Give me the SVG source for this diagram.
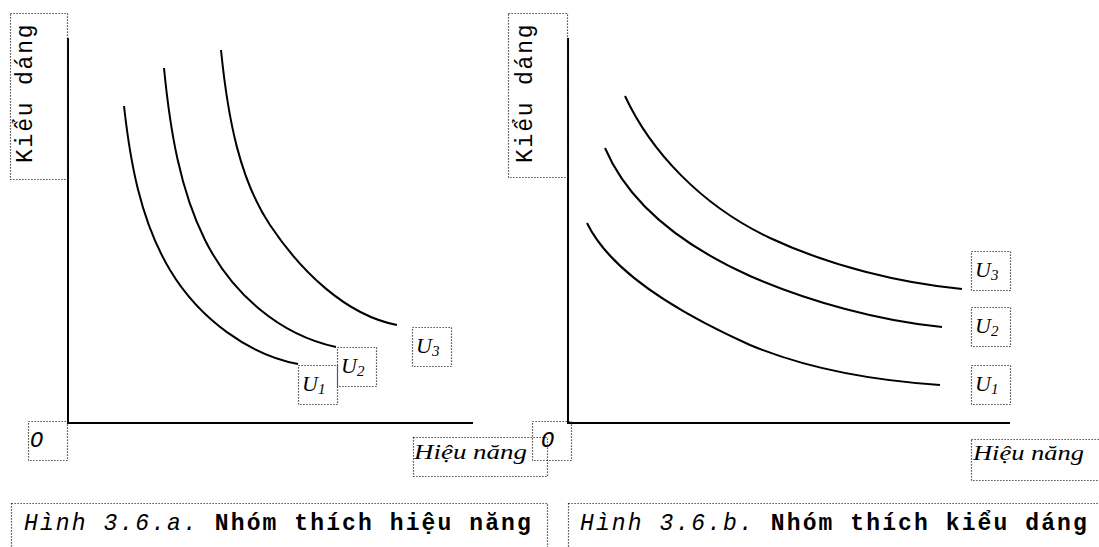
<svg xmlns="http://www.w3.org/2000/svg" width="1099" height="547" viewBox="0 0 1099 547">
<style>
.bg{fill:#fff}
.axis{stroke:#000;stroke-width:2;fill:none}
.curve{stroke:#000;stroke-width:2;fill:none}
.box{fill:none;stroke:#222;stroke-width:1.2;stroke-dasharray:1.2 1.8}
.mono{font-family:"Liberation Mono","DejaVu Sans Mono",monospace;fill:#000}
.ital{font-family:"Liberation Serif","DejaVu Serif",serif;font-style:italic;fill:#000}
.cap{font-size:23px;letter-spacing:2.1px}
.ylab{font-size:23px;letter-spacing:1.8px}
.u{font-size:22px}
.sub{font-size:15px}
</style>
<rect class="bg" x="0" y="0" width="1099" height="547"/>

<g id="panel-a">
  <g id="axes-a">
    <line class="axis" x1="68" y1="38" x2="68" y2="424"/>
    <line class="axis" x1="67" y1="423" x2="473" y2="423"/>
  </g>
  <g id="ylabel-a">
    <rect class="box" x="10.5" y="13.5" width="57" height="166"/>
    <text class="mono ylab" transform="translate(32,163) rotate(-90)">Kiểu dáng</text>
  </g>
  <g id="origin-a">
    <rect class="box" x="28.5" y="421.5" width="39" height="39"/>
    <text class="mono" x="30" y="447" font-size="22" font-style="italic">O</text>
  </g>
  <g id="xlabel-a">
    <rect class="box" x="413.5" y="437.5" width="134" height="39"/>
    <text class="ital" x="414" y="459" font-size="20" textLength="113" lengthAdjust="spacingAndGlyphs">Hiệu năng</text>
  </g>
  <g id="U1-a">
    <rect class="box" x="298.5" y="365.5" width="39" height="39"/>
    <text class="ital" x="302" y="391"><tspan class="u">U</tspan><tspan class="sub" dy="3">1</tspan></text>
  </g>
  <g id="U2-a">
    <rect class="box" x="337.5" y="347.5" width="39" height="39"/>
    <text class="ital" x="341" y="373"><tspan class="u">U</tspan><tspan class="sub" dy="3">2</tspan></text>
  </g>
  <g id="U3-a">
    <rect class="box" x="412.5" y="327.5" width="39" height="39"/>
    <text class="ital" x="416" y="353"><tspan class="u">U</tspan><tspan class="sub" dy="3">3</tspan></text>
  </g>
  <g id="caption-a">
    <rect class="box" x="11.5" y="503.5" width="536" height="60"/>
    <text class="mono cap" x="24" y="530"><tspan font-style="italic">Hình 3.6.a.</tspan><tspan font-weight="bold"> Nhóm thích hiệu năng</tspan></text>
  </g>
</g>

<g id="panel-b">
  <g id="axes-b">
    <line class="axis" x1="568" y1="38" x2="568" y2="424"/>
    <line class="axis" x1="567" y1="423" x2="1010" y2="423"/>
  </g>
  <g id="ylabel-b">
    <rect class="box" x="508.5" y="13.5" width="59" height="164"/>
    <text class="mono ylab" transform="translate(532,163) rotate(-90)">Kiểu dáng</text>
  </g>
  <g id="origin-b">
    <rect class="box" x="532.5" y="421.5" width="39" height="39"/>
    <text class="mono" x="541" y="447" font-size="22" font-style="italic">O</text>
  </g>
  <g id="xlabel-b">
    <rect class="box" x="971.5" y="439.5" width="140" height="41"/>
    <text class="ital" x="973" y="460" font-size="20" textLength="111" lengthAdjust="spacingAndGlyphs">Hiệu năng</text>
  </g>
  <g id="U1-b">
    <rect class="box" x="971.5" y="365.5" width="39" height="39"/>
    <text class="ital" x="975" y="391"><tspan class="u">U</tspan><tspan class="sub" dy="3">1</tspan></text>
  </g>
  <g id="U2-b">
    <rect class="box" x="971.5" y="307.5" width="39" height="39"/>
    <text class="ital" x="975" y="333"><tspan class="u">U</tspan><tspan class="sub" dy="3">2</tspan></text>
  </g>
  <g id="U3-b">
    <rect class="box" x="971.5" y="251.5" width="39" height="39"/>
    <text class="ital" x="975" y="277"><tspan class="u">U</tspan><tspan class="sub" dy="3">3</tspan></text>
  </g>
  <g id="caption-b">
    <rect class="box" x="568.5" y="503.5" width="560" height="60"/>
    <text class="mono cap" x="580" y="530"><tspan font-style="italic">Hình 3.6.b.</tspan><tspan font-weight="bold"> Nhóm thích kiểu dáng</tspan></text>
  </g>
</g>

<g id="connectors">
  <path id="curve-a-U1" class="curve" d="M124,106 C130,160 140,220 170,270 C200,320 250,355 298,364"/>
  <path id="curve-a-U2" class="curve" d="M164,68 C170,130 180,190 205,240 C232,294 280,335 336,347"/>
  <path id="curve-a-U3" class="curve" d="M221,50 C228,120 240,180 270,225 C300,270 345,315 397,325"/>
  <path id="curve-b-U3" class="curve" d="M625,96 C650,150 700,205 770,238 C830,266 900,283 962,289"/>
  <path id="curve-b-U2" class="curve" d="M605,148 C625,195 670,240 750,276 C810,302 880,321 942,327"/>
  <path id="curve-b-U1" class="curve" d="M587,223 C605,260 650,300 750,345 C810,370 880,381 940,385"/>
</g>
</svg>
